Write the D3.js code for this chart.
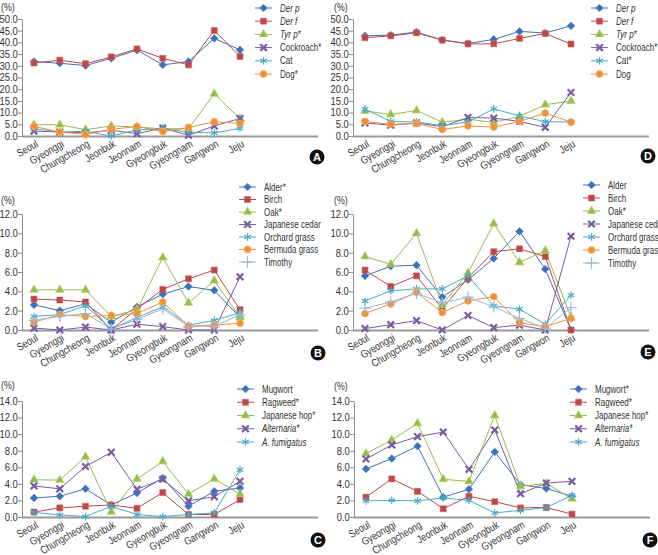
<!DOCTYPE html>
<html>
<head>
<meta charset="utf-8">
<script src="https://cdn.jsdelivr.net/npm/d3@7"></script>
<style>
  html, body { margin: 0; padding: 0; background: #fff; }
  svg { display: block; }
  text { font-family: "Liberation Sans", Arial, sans-serif; fill: #333; }
</style>
</head>
<body>
<div id="chart"></div>
<script>
// 지역 (x축)
var regions = ['Seoul', 'Gyeonggi', 'Chungcheong', 'Jeonbuk', 'Jeonnam', 'Gyeongbuk', 'Gyeongnam', 'Gangwon', 'Jeju'];

// A — 실내 항원 (왼쪽 위)
var derP_A  = [31.8, 31.1, 30.1, 33.2, 36.7, 30.4, 31.8, 41.7, 36.8];
var derF_A  = [31.2, 32.4, 30.9, 33.8, 37.2, 33.2, 30.4, 45.1, 34.0];
var tyrP_A  = [4.8, 4.8, 2.7, 4.3, 3.8, 3.1, 3.1, 18.0, 7.4];
var roach_A = [2.1, 1.7, 1.4, 2.4, 1.0, 3.4, 0.3, 4.3, 7.5];
var cat_A   = [3.1, 1.7, 2.0, 0.0, 2.6, 3.1, 1.7, 1.3, 3.3];
var dog_A   = [4.1, 1.7, 0.7, 2.8, 4.1, 1.9, 3.6, 6.1, 5.4];

// D — 실내 항원 (오른쪽 위)
var derP_D  = [42.8, 43.1, 44.4, 41.0, 39.5, 41.3, 44.7, 44.0, 47.1];
var derF_D  = [42.0, 42.8, 44.1, 41.0, 39.4, 39.4, 41.7, 43.8, 39.3];
var tyrP_D  = [10.7, 9.2, 10.9, 5.9, 7.2, 5.8, 8.4, 13.4, 14.9];
var roach_D = [5.6, 4.6, 5.6, 4.0, 7.9, 7.7, 6.2, 3.7, 18.6];
var cat_D   = [11.5, 6.2, 6.0, 4.4, 6.0, 11.6, 8.6, 6.1, 6.0];
var dog_D   = [6.2, 5.0, 5.3, 2.8, 4.3, 3.8, 6.2, 9.8, 5.9];

// B — 수목/잔디 화분 (왼쪽 가운데)
var alder_B    = [2.6, 2.0, 2.7, 0.8, 2.4, 3.7, 4.5, 4.1, 1.3];
var birch_B    = [3.2, 3.1, 2.9, 0.0, 2.2, 4.2, 5.3, 6.2, 2.1];
var oak_B      = [4.15, 4.15, 4.15, 1.4, 2.1, 7.5, 2.8, 5.1, 1.3];
var cedar_B    = [0.2, 0.0, 0.3, 0.0, 0.6, 0.35, 0.0, 0.0, 5.5];
var orchard_B  = [1.4, 1.6, 2.5, 0.1, 1.3, 2.4, 0.5, 1.0, 1.8];
var bermuda_B  = [0.8, 1.6, 1.4, 1.5, 1.7, 2.9, 0.4, 0.5, 0.7];
var timothy_B  = [1.0, 1.4, 1.7, 0.1, 1.1, 2.2, 0.35, 0.4, 1.55];

// E — 수목/잔디 화분 (오른쪽 가운데)
var alder_E    = [5.6, 6.6, 6.7, 3.4, 5.2, 7.4, 10.2, 6.3, 0.0];
var birch_E    = [6.2, 4.5, 5.6, 2.2, 5.4, 8.1, 8.4, 7.6, 0.0];
var oak_E      = [7.6, 6.8, 10.0, 2.6, 5.9, 11.0, 7.0, 8.2, 1.3];
var cedar_E    = [0.15, 0.55, 0.97, 0.0, 1.5, 0.25, 0.5, 0.0, 9.7];
var orchard_E  = [3.0, 4.05, 4.25, 4.25, 5.6, 2.5, 2.15, 0.6, 3.6];
var bermuda_E  = [1.7, 2.7, 3.9, 1.8, 3.0, 3.45, 0.75, 0.35, 1.2];
var timothy_E  = [2.25, 2.9, 3.8, 2.8, 3.4, 2.4, 1.2, 0.2, 2.3];

// C — 잡초/곰팡이 (왼쪽 아래)
var mugwort_C  = [2.3, 2.5, 3.4, 1.45, 2.9, 4.7, 1.3, 3.1, 3.5];
var ragweed_C  = [0.6, 1.1, 1.3, 1.45, 1.05, 2.95, 0.3, 0.3, 2.1];
var hop_C      = [4.5, 4.45, 7.25, 0.6, 4.6, 6.7, 2.75, 4.6, 2.75];
var altern_C   = [3.75, 3.4, 6.1, 7.8, 3.35, 4.55, 1.95, 2.45, 4.3];
var fumig_C    = [0.55, 0.25, 0.05, 1.3, 0.3, 0.05, 0.3, 0.5, 5.7];

// F — 잡초/곰팡이 (오른쪽 아래)
var mugwort_F  = [5.8, 7.05, 8.55, 2.4, 3.35, 7.85, 3.9, 3.45, 2.5];
var ragweed_F  = [2.4, 4.6, 3.1, 1.0, 2.5, 1.85, 1.1, 1.15, 0.35];
var hop_F      = [7.65, 9.3, 11.3, 4.55, 4.3, 12.25, 3.7, 4.05, 2.2];
var altern_F   = [7.0, 8.7, 9.7, 10.25, 5.75, 10.5, 2.8, 4.1, 4.3];
var fumig_F    = [1.95, 2.0, 1.95, 2.3, 2.0, 0.5, 0.8, 1.15, 2.6];

// 눈금
var ticksMites  = [0, 5, 10, 15, 20, 25, 30, 35, 40, 45, 50];
var ticksTrees  = [0, 2, 4, 6, 8, 10, 12];
var ticksWeeds  = [0, 2, 4, 6, 8, 10, 12, 14];

var colors = {
  blue: '#3f70b5', red: '#b8494a', green: '#98b955', purple: '#7a5ca3',
  cyan: '#4aacc6', orange: '#f0903f', light: '#9bb7da'
};

// 좁은 글꼴 흉내 (가로 축소)
var NARROW = 0.8;

function s(label, values, color, marker, italic) {
  return { label: label, values: values, color: color, marker: marker, italic: !!italic };
}

var panels = [
  { letter: 'A', x0: 22, yTop: 19, yBottom: 136, max: 50, ticks: ticksMites, pctY: 11, pctX: 1,
    legend: { x: 255, y: 8, step: 13.2 }, badge: [317, 157],
    series: [
      s('Der p', derP_A, colors.blue, 'diamond', true),
      s('Der f', derF_A, colors.red, 'square', true),
      s('Tyr p*', tyrP_A, colors.green, 'triangle', true),
      s('Cockroach*', roach_A, colors.purple, 'times'),
      s('Cat', cat_A, colors.cyan, 'asterisk'),
      s('Dog*', dog_A, colors.orange, 'circle')
    ] },
  { letter: 'D', x0: 353, yTop: 19, yBottom: 136, max: 50, ticks: ticksMites, pctY: 11, pctX: 334,
    legend: { x: 591, y: 8, step: 13.2 }, badge: [648, 156],
    series: [
      s('Der p', derP_D, colors.blue, 'diamond', true),
      s('Der f', derF_D, colors.red, 'square', true),
      s('Tyr p*', tyrP_D, colors.green, 'triangle', true),
      s('Cockroach*', roach_D, colors.purple, 'times'),
      s('Cat*', cat_D, colors.cyan, 'asterisk'),
      s('Dog', dog_D, colors.orange, 'circle')
    ] },
  { letter: 'B', x0: 22, yTop: 214, yBottom: 330, max: 12, ticks: ticksTrees, pctY: 204, pctX: 1,
    legend: { x: 239, y: 187, step: 12.5 }, badge: [318, 353],
    series: [
      s('Alder*', alder_B, colors.blue, 'diamond'),
      s('Birch', birch_B, colors.red, 'square'),
      s('Oak*', oak_B, colors.green, 'triangle'),
      s('Japanese cedar', cedar_B, colors.purple, 'times'),
      s('Orchard grass', orchard_B, colors.cyan, 'asterisk'),
      s('Bermuda grass', bermuda_B, colors.orange, 'circle'),
      s('Timothy', timothy_B, colors.light, 'plus')
    ] },
  { letter: 'E', x0: 353, yTop: 214, yBottom: 330, max: 12, ticks: ticksTrees, pctY: 204, pctX: 334,
    legend: { x: 583, y: 185, step: 13 }, badge: [648, 352],
    series: [
      s('Alder', alder_E, colors.blue, 'diamond'),
      s('Birch', birch_E, colors.red, 'square'),
      s('Oak*', oak_E, colors.green, 'triangle'),
      s('Japanese cedar', cedar_E, colors.purple, 'times'),
      s('Orchard grass', orchard_E, colors.cyan, 'asterisk'),
      s('Bermuda grass', bermuda_E, colors.orange, 'circle'),
      s('Timothy', timothy_E, colors.light, 'plus')
    ] },
  { letter: 'C', x0: 22, yTop: 401, yBottom: 517, max: 14, ticks: ticksWeeds, pctY: 389, pctX: 1,
    legend: { x: 237, y: 389, step: 13.25 }, badge: [318, 540],
    series: [
      s('Mugwort', mugwort_C, colors.blue, 'diamond'),
      s('Ragweed*', ragweed_C, colors.red, 'square'),
      s('Japanese hop*', hop_C, colors.green, 'triangle'),
      s('Alternaria*', altern_C, colors.purple, 'times', true),
      s('A. fumigatus', fumig_C, colors.cyan, 'asterisk', true)
    ] },
  { letter: 'F', x0: 354, yTop: 401, yBottom: 517, max: 14, ticks: ticksWeeds, pctY: 390, pctX: 334,
    legend: { x: 570, y: 389, step: 13.25 }, badge: [650, 540],
    series: [
      s('Mugwort*', mugwort_F, colors.blue, 'diamond'),
      s('Ragweed*', ragweed_F, colors.red, 'square'),
      s('Japanese hop*', hop_F, colors.green, 'triangle'),
      s('Alternaria*', altern_F, colors.purple, 'times', true),
      s('A. fumigatus', fumig_F, colors.cyan, 'asterisk', true)
    ] }
];

var W = 658, H = 555;
var svg = d3.select('#chart').append('svg').attr('width', W).attr('height', H);

var symbolTypes = {
  diamond: d3.symbolSquare,
  square: d3.symbolSquare,
  triangle: d3.symbolTriangle,
  times: d3.symbolTimes || d3.symbolX,
  asterisk: d3.symbolAsterisk,
  circle: d3.symbolCircle,
  plus: d3.symbolPlus
};
var symbolSizes = { diamond: 30, square: 36, triangle: 34, times: 30, asterisk: 40, circle: 38, plus: 44 };

function drawMarker(g, type, color, x, y) {
  var path = d3.symbol().type(symbolTypes[type]).size(symbolSizes[type])();
  var m = g.append('path')
    .attr('d', path)
    .attr('transform', 'translate(' + x + ',' + y + ')' + (type === 'diamond' ? ' rotate(45)' : ''));
  if (type === 'times' || type === 'asterisk' || type === 'plus') {
    m.attr('fill', 'none').attr('stroke', color)
      .attr('stroke-width', type === 'times' ? 2.2 : 1.2);
  } else {
    m.attr('fill', color).attr('stroke', d3.color(color).brighter(0.6)).attr('stroke-width', 0.6);
  }
}

// 가로로 좁힌 텍스트
function narrowText(g, x, y, str, size, extra) {
  return g.append('text')
    .attr('transform', 'translate(' + x + ',' + y + ')' + (extra || '') + ' scale(' + NARROW + ',1)')
    .attr('font-size', size)
    .text(str);
}

panels.forEach(function (p) {
  var g = svg.append('g').attr('class', 'panel-' + p.letter);

  var x = d3.scalePoint().domain(regions).range([p.x0 + 12, p.x0 + 218]);
  var y = d3.scaleLinear().domain([0, p.max]).range([p.yBottom, p.yTop]);

  // y축
  var yAxis = g.append('g')
    .attr('transform', 'translate(' + p.x0 + ',0)')
    .call(d3.axisLeft(y).tickValues(p.ticks).tickFormat(d3.format('.1f')).tickSize(4).tickSizeOuter(0));
  yAxis.select('.domain').attr('stroke', '#8c8c8c');
  yAxis.selectAll('.tick line').attr('stroke', '#8c8c8c');
  yAxis.selectAll('.tick text')
    .attr('x', -2)
    .attr('font-size', 10.5)
    .attr('fill', '#333')
    .attr('font-family', '"Liberation Sans", Arial, sans-serif')
    .attr('transform', 'translate(-2,0) scale(0.9,1)')
    .attr('transform-origin', '-4 0');

  // x축 선
  g.append('line')
    .attr('x1', p.x0).attr('x2', p.x0 + 296)
    .attr('y1', p.yBottom + 0.5).attr('y2', p.yBottom + 0.5)
    .attr('stroke', '#999').attr('stroke-width', 2);

  // x축 라벨
  regions.forEach(function (d) {
    narrowText(g, x(d) + 5, p.yBottom + 10, d, 11, ' rotate(-30)')
      .attr('text-anchor', 'end');
  });

  narrowText(g, p.pctX, p.pctY, '(%)', 11);

  var line = d3.line()
    .x(function (d, i) { return x(regions[i]); })
    .y(function (d) { return y(d); });

  p.series.forEach(function (sr) {
    g.append('path')
      .attr('d', line(sr.values))
      .attr('fill', 'none')
      .attr('stroke', sr.color)
      .attr('stroke-width', 1);
  });
  p.series.forEach(function (sr) {
    sr.values.forEach(function (v, i) {
      drawMarker(g, sr.marker, sr.color, x(regions[i]), y(v));
    });
  });

  // 범례
  var lg = g.append('g');
  p.series.forEach(function (sr, i) {
    var ly = p.legend.y + i * p.legend.step;
    lg.append('line')
      .attr('x1', p.legend.x).attr('x2', p.legend.x + 17)
      .attr('y1', ly).attr('y2', ly)
      .attr('stroke', sr.color).attr('stroke-width', 1);
    drawMarker(lg, sr.marker, sr.color, p.legend.x + 8.5, ly);
    narrowText(lg, p.legend.x + 25, ly + 3.5, sr.label, 10)
      .attr('font-style', sr.italic ? 'italic' : null);
  });

  // 패널 배지
  g.append('circle')
    .attr('cx', p.badge[0]).attr('cy', p.badge[1]).attr('r', 7.5)
    .attr('fill', '#111');
  g.append('text')
    .attr('x', p.badge[0]).attr('y', p.badge[1] + 4)
    .attr('text-anchor', 'middle')
    .attr('font-size', 11).attr('font-weight', 'bold')
    .style('fill', '#fff')
    .text(p.letter);
});
</script>
</body>
</html>
